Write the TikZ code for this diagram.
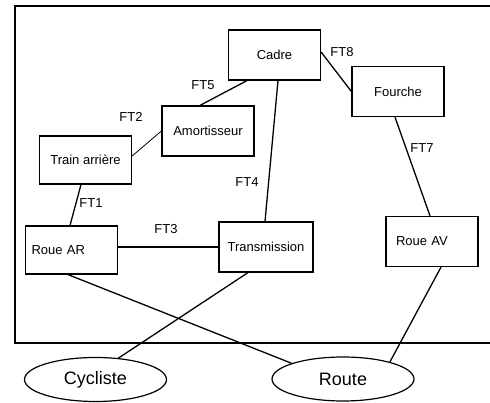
\documentclass[tikz,border=0pt]{standalone}
\usepackage{fontspec}
\setmainfont{Liberation Sans}
\usetikzlibrary{shapes.geometric}
\tikzset{
  every picture/.style={line width=1.2pt},
  box/.style={draw, rectangle, minimum width=92pt, minimum height=50pt, inner sep=0pt,
    font=\fontsize{13}{15}\selectfont},
  actor/.style={draw, ellipse, minimum width=142pt, minimum height=44pt, inner sep=0pt,
    font=\fontsize{18}{20}\selectfont},
  ftlabel/.style={font=\fontsize{13}{15}\selectfont, inner sep=0pt},
  link/.style={draw, line width=1.3pt},
}

\begin{document}
\begin{tikzpicture}[x=1pt, y=-1pt]
  \useasboundingbox (0,0) rectangle (490,403);
  % system boundary (open on the right)
  \draw[line width=1.4pt] (490,6) -- (15,6) -- (15,343) -- (490,343);
  % components of the bike
  \node[box] (cadre) at (274.5,55) {Cadre};
  \node[box] (fourche) at (398,91.5) {Fourche};
  \node[box] (amort) at (208,131) {Amortisseur};
  \node[box, minimum height=48pt] (train) at (85.5,160) {Train arrière};
  \node[box, minimum height=48pt, text width=80pt, align=left] (roueAR) at (71.5,250) {Roue AR};
  \node[box, minimum width=94pt] (trans) at (266,247) {Transmission};
  \node[box, text width=72pt, align=left] (roueAV) at (432,241.5) {Roue AV};
  % outside actors
  \node[actor] (cycliste) at (95.5,379.5) {Cycliste};
  \node[actor] (route) at (343,379) {Route};
  % functions
  \draw[link] ([xshift=-27.5pt]cadre.south) -- ([xshift=-8pt]amort.north);
  \draw[link] ([yshift=3pt]cadre.east) -- (fourche.west);
  \draw[link] ([xshift=3.5pt]cadre.south) -- ([xshift=-1pt]trans.north);
  \draw[link] ([xshift=-3pt]fourche.south) -- ([xshift=-2pt]roueAV.north);
  \draw[link, line width=0.8pt] ([yshift=4pt]train.east) -- (amort.west);
  \draw[link] ([xshift=-4.5pt]train.south) -- ([xshift=-1.5pt]roueAR.north);
  \draw[link] (roueAR.east |- trans.west) -- (trans.west);
  \draw[link] ([xshift=-3.5pt]roueAR.south) -- (route.163);
  \draw[link] ([xshift=-18pt]trans.south) -- (cycliste.43);
  \draw[link] ([xshift=9pt]roueAV.south) -- (route.20);
  % FT labels
  \foreach \n/\x/\y in {1/91/203, 2/131/117, 3/166/229, 4/247/182, 5/203/85, 7/422/148, 8/342/52}
    \node[ftlabel] (ft\n) at (\x,\y) {FT\n};
\end{tikzpicture}
\end{document}
